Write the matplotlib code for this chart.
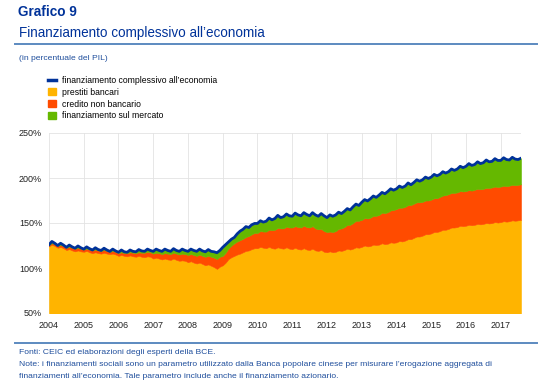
#!/usr/bin/env python

import numpy as np
import matplotlib.pyplot as plt
from matplotlib.lines import Line2D
from matplotlib.patches import Patch

# dati mensili, gen 2004 - ago 2017, in % del PIL
anni = [str(a) for a in range(2004, 2018)]

totale = [
    126, 129.5, 127.5, 125, 127.5, 125.5, 123, 125.5, 123.5, 122, 124.5, 122.5,
    121, 123.5, 121.5, 120, 122.5, 120.5, 119.5, 122, 120, 118.5, 121, 119,
    117.5, 120, 118, 117.5, 120, 118.5, 118, 120.5, 119, 118.5, 121, 119.5,
    118.5, 121, 119.5, 118.5, 121, 119.5, 118.5, 121.5, 119.5, 118.5, 121, 119.5,
    118.5, 121, 119.5, 118.5, 121, 119, 118, 120.5, 118.5, 118, 117, 119.5,
    123, 126, 129, 132, 134, 138, 141, 143, 146, 145, 148, 149.5,
    149.5, 152.5, 151, 152, 155.5, 153.5, 155, 158.5, 156, 157, 160, 158,
    157.5, 161, 159, 158, 161.5, 159.5, 158, 161.5, 159, 157.5, 160.5, 158,
    156, 159, 157.5, 159, 162, 160.5, 163, 166, 164.5, 168, 171, 169.5,
    173, 176, 174.5, 177, 180, 178.5, 181, 184, 182.5, 185, 188, 186.5,
    188, 191, 189.5, 191, 194.5, 192.5, 195, 198, 196.5, 198, 201, 199.5,
    201, 204, 202.5, 204, 207, 205.5, 207, 210, 208.5, 210, 213, 211.5,
    213, 216, 214, 215, 218, 216, 217, 220, 218, 218.5, 221.5, 219.5,
    219.5, 222.5, 220.5, 220, 223, 221, 220.5, 222,
]

prestiti_bancari = [
    124, 126, 124.5, 122.5, 123.5, 122, 120, 121, 119.5, 118.5, 119.5, 118.5,
    118, 119, 117.5, 116.5, 117.5, 116.5, 116, 117, 116, 115.5, 116, 115,
    113.5, 114.5, 113.5, 113, 114, 113, 112.5, 113.5, 112.5, 112, 113, 112.5,
    110.5, 111.5, 110.5, 109.5, 110.5, 109.5, 109, 110.5, 109, 108, 108.5, 108,
    106.5, 107.5, 106, 105, 106, 104.5, 103, 104, 102.5, 101, 99, 101.5,
    103, 106, 110, 112, 113.5, 115, 116, 117.5, 119, 119.5, 121, 122,
    122, 123.5, 122.5, 122, 123.5, 122, 121.5, 123, 122, 121.5, 123, 121.5,
    121, 122.5, 121, 120.5, 122, 120.5, 120, 121.5, 119.5, 119, 120, 118,
    117.5, 118.5, 117.5, 118, 119.5, 119, 120, 121.5, 120.5, 121.5, 123, 122.5,
    123.5, 125, 124, 124.5, 126, 125.5, 126, 127.5, 126.5, 127, 128.5, 128,
    128.5, 130, 129.5, 130.5, 132, 132, 133.5, 135, 135, 136, 137.5, 137.5,
    138.5, 140, 140, 141, 142.5, 142.5, 143.5, 145, 145, 145.5, 147, 146.5,
    147, 148, 147.5, 148, 149, 148.5, 149, 150, 149.5, 150, 151, 150.5,
    151, 152, 151.5, 152, 153, 152.5, 153, 153.5,
]

credito_non_bancario = [
    1.5, 1.5, 2, 2, 2, 2.5, 2.5, 2.5, 3, 3, 3, 3,
    2.5, 2.5, 3, 3, 3, 3, 3, 3, 3, 2.5, 3, 3,
    3, 3, 3, 3.5, 3.5, 4, 4, 4, 4.5, 5, 5, 5,
    5.5, 5.5, 6, 6, 6, 6.5, 6.5, 6.5, 7, 7, 7.5, 7.5,
    8, 8, 8.5, 8.5, 9, 9, 9.5, 9.5, 10, 10.5, 11, 11,
    10.5, 11, 12, 13, 14, 14.5, 15, 15, 15.5, 16, 16.5, 17,
    17, 17.5, 18, 18.5, 19, 20, 21, 21.5, 22, 22.5, 23, 23.5,
    24, 24, 24.5, 24.5, 25, 25, 25, 25, 24.5, 24, 23.5, 23,
    22.5, 22, 22.5, 23, 24, 25, 25.5, 26.5, 27.5, 28.5, 29.5, 30,
    30, 30.5, 31, 31.5, 32, 32.5, 33, 34, 34.5, 35, 35.5, 36.5,
    37, 37, 37.5, 37.5, 38, 38, 38, 38, 38, 37.5, 37.5, 37.5,
    37.5, 37.5, 37.5, 38, 38, 38.5, 38.5, 38.5, 38.5, 38.5, 38.5, 38.5,
    38.5, 38.5, 38.5, 39, 39, 39, 39, 39, 39.5, 39.5, 39.5, 39.5,
    39.5, 39.5, 39.5, 39.5, 39.5, 39.5, 39.5, 39.5,
]

BLU = '#003299'
GIALLO = '#FFB400'
ARANCIO = '#FF4B00'
VERDE = '#65B800'
TESTO = '#1F4E9C'
RIGA = '#5C8AC0'


def main():
    plt.rcParams['font.family'] = ['Liberation Sans', 'DejaVu Sans']

    tot = np.array(totale)
    banc = np.array(prestiti_bancari)
    nonb = np.array(credito_non_bancario)
    n = len(tot)
    mesi = 2004 + np.arange(n) / 12

    W, H = 540, 383
    fig = plt.figure(figsize=(W / 100, H / 100), dpi=100)
    ax = fig.add_axes([49 / W, 1 - 313 / H, (521 - 49) / W, 180 / H])

    ax.fill_between(mesi, 0, banc, color=GIALLO, lw=0.4)
    ax.fill_between(mesi, banc, banc + nonb, color=ARANCIO, lw=0.4)
    ax.fill_between(mesi, banc + nonb, tot, color=VERDE, lw=0.4)
    ax.plot(mesi, tot, color=BLU, lw=2, solid_joinstyle='round')

    ax.set_xlim(2004, mesi[-1])
    ax.set_ylim(50, 250)
    ax.set_xticks(range(2004, 2018))
    ax.set_xticklabels(anni)
    ax.set_yticks(range(50, 251, 50))
    ax.set_yticklabels(['{}%'.format(v) for v in range(50, 251, 50)])
    ax.tick_params(length=0, labelsize=6.5, colors='#222222')
    ax.tick_params(axis='x', pad=6)
    ax.tick_params(axis='y', pad=5)
    ax.grid(True, color='#E3E3E3', lw=0.6)
    ax.set_axisbelow(True)
    for s in ax.spines.values():
        s.set_visible(False)

    handles = [
        Line2D([], [], color=BLU, lw=2.5),
        Patch(color=GIALLO),
        Patch(color=ARANCIO),
        Patch(color=VERDE),
    ]
    labels = ['finanziamento complessivo all\u2019economia', 'prestiti bancari',
              'credito non bancario', 'finanziamento sul mercato']
    fig.legend(handles, labels, loc='upper left', bbox_to_anchor=(48 / W, 1 - 76 / H),
               frameon=False, fontsize=6.2, handlelength=0.9, handleheight=0.9,
               handletextpad=0.7, labelspacing=0.32, borderpad=0, borderaxespad=0)

    fig.text(18 / W, 1 - 12 / H, 'Grafico 9', fontsize=9.8, fontweight='bold',
             color=BLU, va='center')
    fig.text(19 / W, 1 - 33 / H, 'Finanziamento complessivo all\u2019economia',
             fontsize=9.75, color=BLU, va='center')
    fig.add_artist(Line2D([15 / W, 537 / W], [1 - 44 / H, 1 - 44 / H], color=RIGA, lw=1.4))
    fig.text(19 / W, 1 - 58 / H, '(in percentuale del PIL)', fontsize=6.1,
             color=TESTO, va='center')

    fig.add_artist(Line2D([15 / W, 537 / W], [1 - 343 / H, 1 - 343 / H], color=RIGA, lw=1.4))
    note = [
        'Fonti: CEIC ed elaborazioni degli esperti della BCE.',
        'Note: i finanziamenti sociali sono un parametro utilizzato dalla Banca popolare '
        'cinese per misurare l\u2019erogazione aggregata di',
        'finanziamenti all\u2019economia. Tale parametro include anche il finanziamento azionario.',
    ]
    for i, riga in enumerate(note):
        fig.text(19 / W, 1 - (352 + 12 * i) / H, riga, fontsize=6.1, color=TESTO, va='center')

    fig.savefig('out.png', dpi=100)


if __name__ == '__main__':
    main()
